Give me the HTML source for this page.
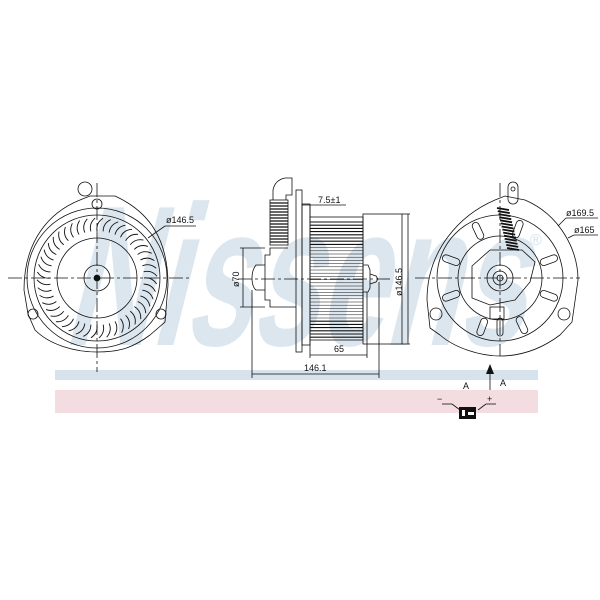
<!DOCTYPE html>
<html><head><meta charset="utf-8"><style>
html,body{margin:0;padding:0;background:#fff;width:600px;height:600px;overflow:hidden}
svg{display:block}
text{font-family:"Liberation Sans",sans-serif}
</style></head><body>
<svg id="s" width="600" height="600" viewBox="0 0 600 600" xmlns="http://www.w3.org/2000/svg">
<rect x="55" y="370" width="483" height="10" fill="#d6e3ed"/>
<rect x="55" y="390" width="483" height="23" fill="#f3dde1"/>
<g transform="translate(0,345) skewX(-14)">
<text x="62" y="0" font-size="200" font-weight="bold" fill="#dbe6ef" textLength="460" lengthAdjust="spacingAndGlyphs">Nissens</text>
</g>
<text x="530" y="245" font-size="16" fill="#d2e0ec">®</text>
<g fill="none" stroke="#111" stroke-width="0.8">
<path d="M28 314 L24 290 C24 240 50 212 80 200 L90 196 L115 196 C150 212 168 240 168 285 L165 322 L150 335 C130 350 115 352 97 352 C75 352 50 345 35 330 Z"/>
<circle cx="97" cy="278" r="70"/>
<circle cx="97" cy="278" r="63"/>
<circle cx="97" cy="278" r="40"/>
<circle cx="97" cy="278" r="13"/>
<circle cx="97" cy="278" r="3" fill="#111"/>
<circle cx="97" cy="204" r="5"/>
<circle cx="33" cy="314" r="5"/>
<circle cx="161" cy="314" r="5"/>
<circle cx="85" cy="189" r="7"/>
<g id="blades"></g>
<line x1="8" y1="278" x2="190" y2="278" stroke-dasharray="14 3 3 3"/>
<line x1="97" y1="183" x2="97" y2="372" stroke-dasharray="14 3 3 3"/>
<line x1="148" y1="238" x2="165" y2="226"/>
<line x1="165" y1="226" x2="196" y2="226"/>
<rect x="296" y="190" width="6" height="162"/>
<rect x="302" y="204" width="8" height="141"/>
<path d="M288 248 L270 248 L270 255 L265 255 L265 300 L270 300 L270 307 L296 307"/>
<path d="M265 265 L256 265 Q252 270 252 278 Q252 287 256 290 L265 290"/>
<rect x="270" y="200" width="18" height="45"/>
<g id="hose"></g>
<path d="M273 200 L273 190 Q275 180 285 178 L292 178 L292 195 L286 195 L286 200"/>
<rect x="310" y="217" width="53" height="123"/>
<g id="fanlines"></g>
<rect x="363" y="214" width="39" height="130"/>
<path d="M363 265 L368 265 L370 270 L370 288 L368 292 L363 292"/>
<path d="M370 274 L376 276 L378 279 L376 282 L370 284"/>
<line x1="238" y1="279" x2="390" y2="279" stroke-dasharray="14 3 3 3"/>
<line x1="240" y1="248" x2="265" y2="248"/>
<line x1="240" y1="307" x2="265" y2="307"/>
<line x1="243" y1="248" x2="243" y2="307"/>
<line x1="402" y1="214" x2="410" y2="214"/>
<line x1="402" y1="344" x2="410" y2="344"/>
<line x1="408" y1="214" x2="408" y2="344"/>
<line x1="252" y1="290" x2="252" y2="378"/>
<line x1="379" y1="282" x2="379" y2="378"/>
<line x1="252" y1="374" x2="379" y2="374"/>
<line x1="310" y1="340" x2="310" y2="358"/>
<line x1="367" y1="292" x2="367" y2="358"/>
<line x1="310" y1="355" x2="367" y2="355"/>
<line x1="302" y1="205" x2="346" y2="205"/>
<line x1="310" y1="205" x2="310" y2="217"/>
<path d="M430 328 L427 300 C427 250 460 215 495 200 L505 196 L525 200 C560 215 578 250 578 280 L572 322 L560 335 C540 350 520 356 500 356 C480 356 455 348 440 335 Z"/>
<circle cx="500" cy="278" r="63"/>
<circle cx="500" cy="278" r="42"/>
<circle cx="500" cy="278" r="13"/>
<circle cx="500" cy="278" r="7"/>
<circle cx="500" cy="278" r="3"/>
<path d="M472 266 L490 250 L522 250 L535 262 L530 282 L515 300 L490 305 L472 298 Z"/>
<circle cx="436" cy="314" r="6"/>
<circle cx="564" cy="314" r="6"/>
<rect x="508" y="182" width="10" height="22" rx="5"/>
<circle cx="513" cy="189" r="2"/>
<g id="slots"></g>
<g id="spring"></g>
<rect x="490" y="307" width="14" height="12"/>
<rect x="497" y="318" width="6" height="18" rx="3"/>
<line x1="415" y1="278" x2="580" y2="278" stroke-dasharray="14 3 3 3"/>
<line x1="500" y1="183" x2="500" y2="356" stroke-dasharray="14 3 3 3"/>
<line x1="558" y1="226" x2="566" y2="218"/>
<line x1="566" y1="218" x2="598" y2="218"/>
<line x1="568" y1="238" x2="574" y2="235"/>
<line x1="574" y1="235" x2="598" y2="235"/>
<line x1="490" y1="390" x2="490" y2="374"/>
<line x1="442" y1="404" x2="452" y2="404"/>
<line x1="452" y1="404" x2="460" y2="410"/>
<line x1="478" y1="410" x2="486" y2="404"/>
<line x1="486" y1="404" x2="496" y2="404"/>
</g>
<polygon points="490,364 486,374 494,374" fill="#111"/>
<rect x="459" y="407" width="17" height="12" fill="#111"/>
<rect x="462" y="410" width="3" height="6" fill="#fff"/>
<rect x="468" y="412" width="6" height="3" fill="#fff"/>
<g font-size="9" fill="#111">
<text x="166" y="223">ø146.5</text>
<text x="318" y="203">7.5±1</text>
<text x="334" y="352">65</text>
<text x="304" y="371">146.1</text>
<text x="566" y="216">ø169.5</text>
<text x="574" y="233">ø165</text>
<text transform="translate(239,287) rotate(-90)">ø70</text>
<text transform="translate(402,296) rotate(-90)">ø146.5</text>
<text x="463" y="389">A</text>
<text x="500" y="386">A</text>
<text x="437" y="402">−</text>
<text x="487" y="402">+</text>
</g>
<script>
var NS="http://www.w3.org/2000/svg";
function el(g,t,a){var e=document.createElementNS(NS,t);for(var k in a)e.setAttribute(k,a[k]);document.getElementById(g).appendChild(e);}
for(var i=0;i<48;i++){var a=i*Math.PI*2/48;var r1=47,r2=60;
var x1=97+r1*Math.cos(a),y1=278+r1*Math.sin(a),x2=97+r2*Math.cos(a+0.1),y2=278+r2*Math.sin(a+0.1);
var cx=97+55*Math.cos(a-0.02),cy=278+55*Math.sin(a-0.02);
el("blades","path",{d:"M"+x1+" "+y1+" Q"+cx+" "+cy+" "+x2+" "+y2,"stroke-width":"0.9"});}
for(var y=222;y<338;y+=3.2){el("fanlines","line",{x1:310,y1:y,x2:363,y2:y,"stroke-width":(y<245||y>320)?"1.1":"0.5"});}
for(var y=203;y<244;y+=3){el("hose","line",{x1:270,y1:y,x2:288,y2:y,"stroke-width":"1.2"});}
var ang=[-70,-20,20,65,110,160,200,245];
for(var j=0;j<8;j++){var a=ang[j]*Math.PI/180;var cx=500+52*Math.cos(a),cy=278+52*Math.sin(a);
el("slots","rect",{x:cx-9,y:cy-3.5,width:18,height:7,rx:3.5,transform:"rotate("+(ang[j])+" "+cx+" "+cy+")"});}
for(var k=0;k<14;k++){var t=k/13;var x=503+t*10,y=208+t*40;el("spring","line",{x1:x-6,y1:y,x2:x+6,y2:y+2,"stroke-width":"1.8"});}
</script>
</svg>
</body></html>
